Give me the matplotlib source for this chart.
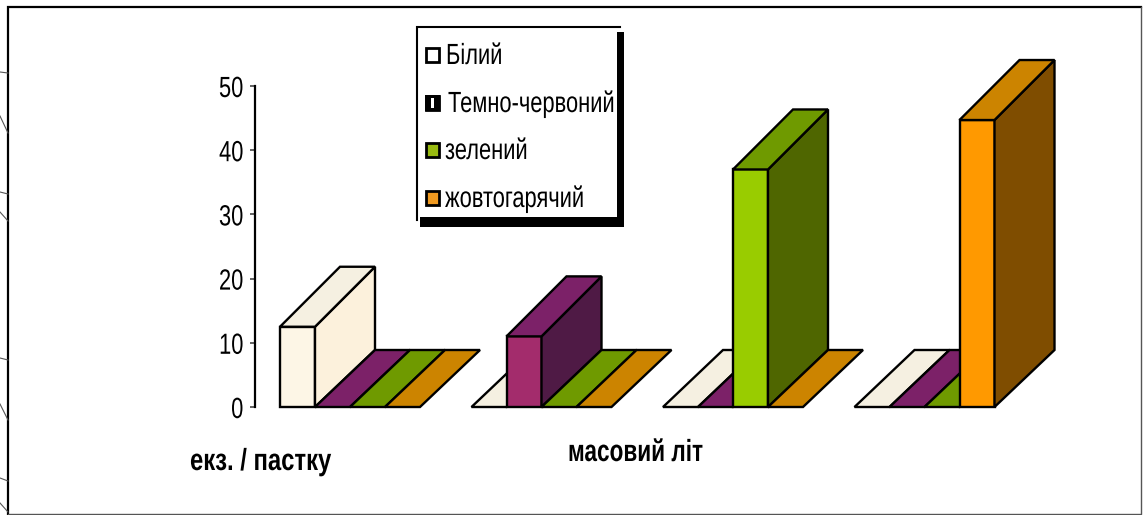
import matplotlib
matplotlib.use("Agg")
import matplotlib.pyplot as plt
from matplotlib.patches import Polygon, Rectangle
from matplotlib.patheffects import AbstractPathEffect
from matplotlib.transforms import Affine2D

plt.rcParams['font.family'] = ['Liberation Sans', 'DejaVu Sans']

# catches per trap, one value per group for every colour of trap
series_names = ['Білий', 'Темно-червоний', 'зелений', 'жовтогарячий']
white = [12.5, 0, 0, 0]
dark_red = [0, 11, 0, 0]
green = [0, 0, 37, 0]
orange = [0, 0, 0, 44.7]
y_ticks = [0, 10, 20, 30, 40, 50]

# front, side and top colours of each series
front_colors = ['#FDF6E6', '#A32C6C', '#99CC00', '#FF9900']
side_colors = ['#FCF1DC', '#4F1A45', '#4F6600', '#7F4D00']
top_colors = ['#F5F0E1', '#7C2168', '#6F9A00', '#CC8400']
legend_colors = ['#FFFFFF', '#FFFFFF', '#99BB11', '#F09A20']

W, H = 1143, 515


class Squeeze(AbstractPathEffect):
    """Narrows text horizontally around a fixed pixel column."""

    def __init__(self, x0, sx):
        super().__init__()
        self.x0 = x0
        self.sx = sx

    def draw_path(self, renderer, gc, tpath, affine, rgbFace=None):
        squeeze = Affine2D().translate(-self.x0, 0).scale(self.sx, 1).translate(self.x0, 0)
        renderer.draw_path(gc, tpath, affine + squeeze, rgbFace)


fig = plt.figure(figsize=(W / 100, H / 100), dpi=100, facecolor='white')

# main axes: left spine at 255 px, y = 0 at 407 px, y = 50 at 86 px
ax_right = 1100
ax = fig.add_axes([255 / W, 1 - 407 / H, (ax_right - 255) / W, (407 - 86) / H])
group_px = 191.5
bar_w = 35 / group_px
depth_x = 60 / group_px
floor_depth = 57 / (321 / 50)
top_depth = 60 / (321 / 50)
ax.set_xlim(-25 / group_px, (ax_right - 280) / group_px)
ax.set_ylim(0, 50)
ax.patch.set_alpha(0)
for name in ['top', 'right', 'bottom']:
    ax.spines[name].set_visible(False)
ax.spines['left'].set_linewidth(1.6)
ax.set_xticks([])
ax.set_yticks(y_ticks)
ax.tick_params(axis='y', length=3.5, width=1.3, color='#555555', pad=5.5, labelsize=21)
for lab in ax.get_yticklabels():
    lab.set_path_effects([Squeeze(245.5, 0.75)])


def draw_bar(x, h, i):
    style = dict(edgecolor='black', linewidth=1.7, joinstyle='miter', clip_on=False)
    x2 = x + bar_w
    if h > 0:
        back = h + top_depth
        ax.add_patch(Rectangle((x, 0), bar_w, h, facecolor=front_colors[i], **style))
        ax.add_patch(Polygon([(x2, 0), (x2 + depth_x, floor_depth), (x2 + depth_x, back), (x2, h)],
                             facecolor=side_colors[i], **style))
    else:
        back = floor_depth
    ax.add_patch(Polygon([(x, h), (x + depth_x, back), (x2 + depth_x, back), (x2, h)],
                         facecolor=top_colors[i], **style))


# left to right so the taller bars sit over the floor tiles behind them
for g in range(4):
    for i, values in enumerate([white, dark_red, green, orange]):
        draw_bar(g + i * bar_w, values[g], i)

# overlay in pixel units for the frame, legend box and captions
ov = fig.add_axes([0, 0, 1, 1], zorder=5)
ov.set_xlim(0, W)
ov.set_ylim(H, 0)
ov.axis('off')
ov.patch.set_alpha(0)

ov.plot([8, 8, 1141], [514, 7, 7], color='black', lw=1.6, solid_joinstyle='miter')
ov.plot([8, 1141, 1141], [514, 514, 7], color='#555555', lw=1.0)

# bits of line cut off by the left edge of the frame
for xs, ys in [([0, 8], [72, 73]), ([0, 8], [116, 133]), ([0, 8], [192, 194]),
               ([0, 8], [212, 221]), ([0, 8], [358, 360]), ([0, 8], [404, 420]),
               ([0, 8], [478, 481]), ([0, 8], [503, 512])]:
    ov.plot(xs, ys, color='#555555', lw=0.8)

# legend with a hard black shadow
ov.add_patch(Rectangle((420, 32), 204, 195, facecolor='black', edgecolor='none'))
ov.add_patch(Rectangle((417, 27), 200, 190, facecolor='white', edgecolor='none'))
ov.plot([417, 417, 620], [220, 27, 27], color='black', lw=1.5, solid_joinstyle='miter')
legend_y = [55, 103, 150, 198]
text_x = [446, 448, 445, 445]
for i, name in enumerate(series_names):
    y = legend_y[i]
    ov.add_patch(Rectangle((426, y - 7), 13, 14, facecolor=legend_colors[i], edgecolor='black', linewidth=2.0))
    ov.text(text_x[i], y + 1, name, fontsize=21, va='center', ha='left', color='black',
            path_effects=[Squeeze(text_x[i], 0.75)])
# the dark red marker is almost all outline
ov.add_patch(Rectangle((425, 95), 15, 16, facecolor='black', edgecolor='none'))
ov.add_patch(Rectangle((430.5, 98), 3, 10, facecolor='white', edgecolor='none'))

ov.text(190, 462, 'екз. / пастку', fontsize=22, fontweight='bold', ha='left', va='center',
        path_effects=[Squeeze(190, 0.78)])
ov.text(568, 453, 'масовий літ', fontsize=22, fontweight='bold', ha='left', va='center',
        path_effects=[Squeeze(568, 0.74)])

fig.savefig('out.png', dpi=100)
